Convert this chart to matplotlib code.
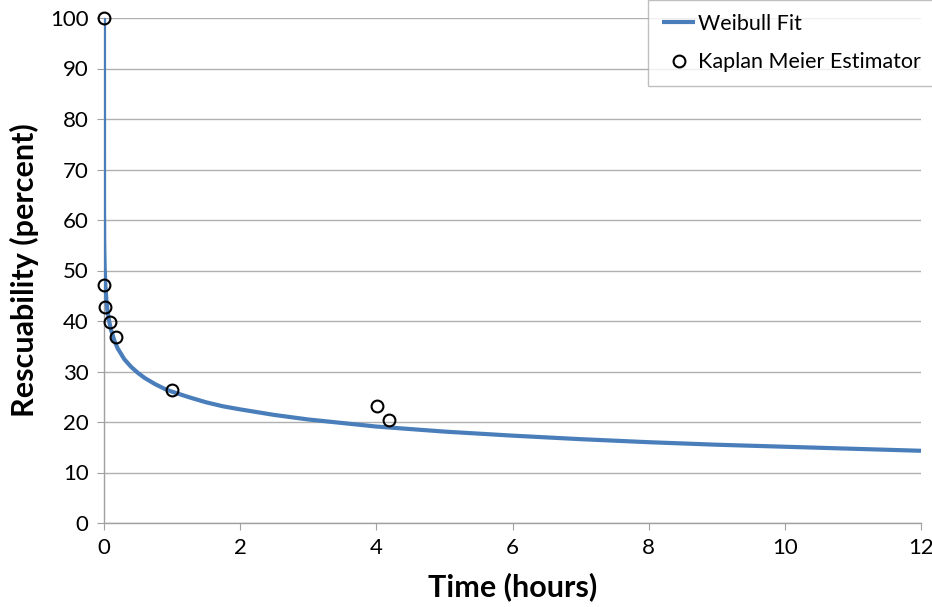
import matplotlib.pyplot as plt

# Weibull fit curve
fit_time = [0, 0.0005, 0.001, 0.003, 0.005, 0.01, 0.02, 0.035, 0.05, 0.075, 0.1,
            0.15, 0.2, 0.3, 0.4, 0.5, 0.6, 0.75, 0.9, 1, 1.25, 1.5, 1.75, 2, 2.5,
            3, 3.5, 4, 5, 6, 7, 8, 9, 10, 11, 12]
fit_pct = [100, 65.5, 61.6, 56.4, 54.1, 50.6, 47.0, 44.2, 42.1, 40.0, 38.4,
           36.2, 34.6, 32.4, 30.9, 29.7, 28.7, 27.5, 26.5, 26.0, 24.9, 23.9, 23.1, 22.5, 21.4,
           20.5, 19.8, 19.1, 18.1, 17.3, 16.6, 16.0, 15.5, 15.1, 14.7, 14.3]

# Kaplan Meier estimator points
km_time = [0, 0.0, 0.02, 0.09, 0.18, 1.0, 4.01, 4.18]
km_pct = [100, 47.1, 42.8, 39.8, 36.8, 26.3, 23.2, 20.4]

plt.rcParams['font.family'] = ['Lato', 'DejaVu Sans']

fig = plt.figure(figsize=(9.32, 6.07), dpi=100)
ax = fig.add_axes([104 / 932, 1 - 523 / 607, (921 - 104) / 932, (523 - 18) / 607])

ax.plot(fit_time, fit_pct, color='#4a7ebb', linewidth=3.0, label='Weibull Fit',
        solid_capstyle='butt', solid_joinstyle='round', zorder=3)
ax.plot(km_time, km_pct, linestyle='none', marker='o', markersize=8.5,
        markerfacecolor='none', markeredgecolor='black', markeredgewidth=1.5,
        label='Kaplan Meier Estimator', zorder=4, clip_on=False)

ax.set_xlim(0, 12)
ax.set_ylim(0, 100)
ax.set_xticks(range(0, 13, 2))
ax.set_yticks(range(0, 101, 10))
ax.yaxis.grid(True, color='#b0b0b0', linewidth=1)
ax.set_axisbelow(True)

for s in ['top', 'right']:
    ax.spines[s].set_visible(False)
for s in ['left', 'bottom']:
    ax.spines[s].set_color('#a0a0a0')
    ax.spines[s].set_linewidth(1)
ax.tick_params(axis='both', direction='out', length=5, color='#a0a0a0',
               labelsize=16, pad=6)

ax.set_xlabel('Time (hours)', fontsize=22, fontweight='bold', labelpad=10)
ax.set_ylabel('Rescuability (percent)', fontsize=22, fontweight='bold', labelpad=8)

leg = fig.legend(loc='upper right', bbox_to_anchor=(1.003, 1.0), fontsize=15.5,
                 frameon=True, fancybox=False, handlelength=1.5, handletextpad=0.15,
                 borderpad=0.65, labelspacing=0.85, borderaxespad=0.0)
leg.get_frame().set_edgecolor('#b0b0b0')
leg.get_frame().set_linewidth(1)

fig.savefig('out.png', dpi=100)
